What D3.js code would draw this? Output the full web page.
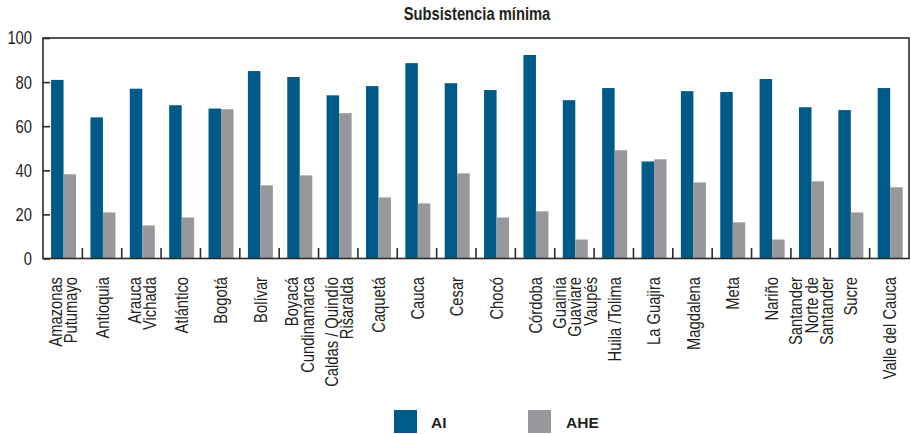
<!DOCTYPE html>
<html>
<head>
<meta charset="utf-8">
<script src="https://cdn.jsdelivr.net/npm/d3@7"></script>
<style>
  html, body { margin: 0; padding: 0; background: #fff; }
  svg { display: block; }
  text { font-family: "Liberation Sans", Arial, sans-serif; fill: #231f20; }
</style>
</head>
<body>
<script>
// Departments (line breaks split multi-line labels)
const categories = [
  "Amazonas\nPutumayo", "Antioquia", "Arauca\nVichada", "Atlántico", "Bogotá",
  "Bolívar", "Boyacá\nCundinamarca", "Caldas / Quindío\nRisaralda", "Caquetá", "Cauca",
  "Cesar", "Chocó", "Córdoba", "Guainía\nGuaviare\nVaupés", "Huila /Tolima",
  "La Guajira", "Magdalena", "Meta", "Nariño", "Santander\nNorte de\nSantander",
  "Sucre", "Valle del Cauca"
];
const seriesNames = ["AI", "AHE"];
const valuesAI  = [81, 64, 77, 69.5, 68, 85, 82.3, 74, 78.2, 88.6, 79.5, 76.4, 92.3, 71.8, 77.3, 44, 75.9, 75.5, 81.4, 68.6, 67.3, 77.3];
const valuesAHE = [38.2, 20.9, 15, 18.6, 67.7, 33.2, 37.7, 65.9, 27.7, 25, 38.6, 18.6, 21.4, 8.6, 49.1, 45, 34.5, 16.4, 8.6, 35, 20.9, 32.3];
const yTicks = [0, 20, 40, 60, 80, 100];
const colors = { AI: "#005a87", AHE: "#97989c" };
const title = "Subsistencia mínima";

const W = 911, H = 434;
const plot = { left: 43, right: 909, top: 38, bottom: 258.5 };
const narrow = "scale(0.82,1)"; // condensed face from the regular sans

const svg = d3.select("body").append("svg").attr("width", W).attr("height", H);

const x0 = d3.scaleBand().domain(categories).range([plot.left, plot.right]).padding(0);
const bw = x0.bandwidth();
const x1 = d3.scaleBand().domain(seriesNames).range([0.205 * bw, 0.84 * bw]).padding(0);
const y = d3.scaleLinear().domain([0, 100]).range([plot.bottom, plot.top]);

// Title
svg.append("text")
  .attr("transform", `translate(${(plot.left + plot.right) / 2 + 1},20) ${narrow}`)
  .attr("text-anchor", "middle")
  .style("font-weight", "bold")
  .style("font-size", "18px")
  .text(title);

// Bars
const rows = categories.map((c, i) => ({ c, AI: valuesAI[i], AHE: valuesAHE[i] }));
const groups = svg.append("g").selectAll("g").data(rows).join("g")
  .attr("transform", d => `translate(${x0(d.c)},0)`);
groups.selectAll("rect")
  .data(d => seriesNames.map(k => ({ k, v: d[k] })))
  .join("rect")
  .attr("x", d => x1(d.k))
  .attr("width", x1.bandwidth())
  .attr("y", d => y(d.v))
  .attr("height", d => y(0) - y(d.v))
  .attr("fill", d => colors[d.k]);

// Frame
svg.append("rect")
  .attr("x", plot.left).attr("y", plot.top)
  .attr("width", plot.right - plot.left).attr("height", plot.bottom - plot.top)
  .attr("fill", "none").attr("stroke", "#2b2b2b").attr("stroke-width", 1.6);

// Y axis: inward ticks, labels on the left
const yAxis = svg.append("g").attr("transform", `translate(${plot.left},0)`)
  .call(d3.axisRight(y).tickValues(yTicks).tickSize(7).tickFormat(""));
yAxis.select(".domain").remove();
yAxis.selectAll("line").attr("stroke", "#2b2b2b").attr("stroke-width", 1.6);

svg.append("g").selectAll("text").data(yTicks).join("text")
  .attr("transform", d => `translate(32,${y(d)}) ${narrow}`)
  .attr("dy", "0.36em")
  .attr("text-anchor", "end")
  .style("font-size", "18px")
  .text(d => d);

// X axis: category boundary ticks pointing up
const boundaries = categories.slice(1).map(c => x0(c));
svg.append("g").selectAll("line").data(boundaries).join("line")
  .attr("x1", d => d).attr("x2", d => d)
  .attr("y1", plot.bottom).attr("y2", plot.bottom - 10.5)
  .attr("stroke", "#2b2b2b").attr("stroke-width", 1.6);

// Rotated category labels
const lineGap = 15.4;
const labels = svg.append("g").selectAll("text").data(categories).join("text")
  .attr("transform", d => `translate(${x0(d) + bw / 2},277) rotate(-90) ${narrow}`)
  .attr("text-anchor", "end")
  .style("font-size", "18px");
labels.each(function (d) {
  const lines = d.split("\n");
  const n = lines.length;
  d3.select(this).selectAll("tspan").data(lines).join("tspan")
    .attr("x", 0)
    .attr("y", (l, i) => (i - (n - 1) / 2) * lineGap + 7)
    .text(l => l);
});

// Legend
const legend = svg.append("g");
const legendItems = [
  { k: "AI", x: 394, tx: 431 },
  { k: "AHE", x: 528, tx: 566 }
];
legend.selectAll("rect").data(legendItems).join("rect")
  .attr("x", d => d.x).attr("y", 410)
  .attr("width", 23).attr("height", 23)
  .attr("fill", d => colors[d.k]);
legend.selectAll("text").data(legendItems).join("text")
  .attr("x", d => d.tx).attr("y", 427.5)
  .style("font-weight", "bold")
  .style("font-size", "15.5px")
  .text(d => d.k);
</script>
</body>
</html>
